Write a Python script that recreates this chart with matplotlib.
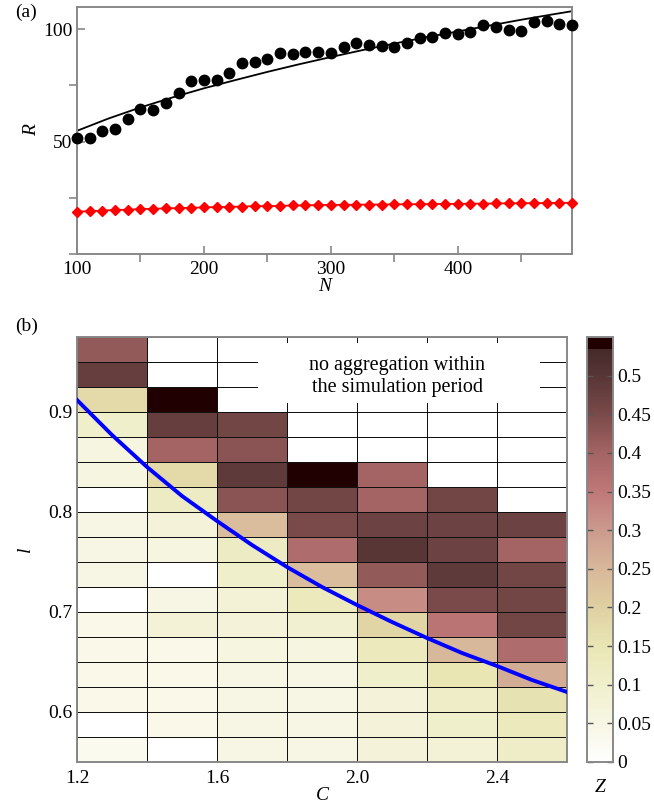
import numpy as np
import matplotlib
matplotlib.use("Agg")
import matplotlib.pyplot as plt
from matplotlib.colors import LinearSegmentedColormap
from matplotlib.patches import Rectangle
from matplotlib.ticker import MultipleLocator

plt.rcParams['font.family'] = ['Liberation Serif', 'DejaVu Serif']

# ---------------- panel (a) data ----------------
N = [100, 110, 120, 130, 140, 150, 160, 170, 180, 190,
     200, 210, 220, 230, 240, 250, 260, 270, 280, 290,
     300, 310, 320, 330, 340, 350, 360, 370, 380, 390,
     400, 410, 420, 430, 440, 450, 460, 470, 480, 490]
R_sim = [51.8, 51.7, 54.5, 55.7, 60.1, 64.5, 64.0, 67.0, 71.4, 76.8,
         77.6, 77.6, 80.6, 84.9, 85.4, 86.7, 89.3, 88.9, 90.0, 90.0,
         89.6, 92.2, 94.0, 93.0, 92.5, 92.1, 93.7, 96.1, 96.6, 98.1,
         97.8, 98.8, 101.8, 101.0, 99.6, 99.1, 103.2, 103.5, 102.2, 102.0]
R_red = [18.9, 19.0, 19.3, 19.6, 19.7, 20.0, 20.1, 20.3, 20.4, 20.6,
         20.7, 20.9, 21.0, 21.1, 21.3, 21.3, 21.4, 21.6, 21.6, 21.8,
         21.8, 21.9, 21.9, 22.0, 22.0, 22.1, 22.1, 22.2, 22.2, 22.3,
         22.3, 22.4, 22.4, 22.5, 22.5, 22.6, 22.6, 22.7, 22.7, 22.8]
N_fit = [100, 125, 150, 175, 200, 225, 250, 275, 300, 325, 350, 375,
         400, 425, 450, 475, 490]
R_fit = [54.8, 60.3, 65.2, 69.6, 73.7, 77.4, 81.0, 84.4, 87.6, 90.7,
         93.6, 96.4, 99.0, 101.6, 104.2, 106.6, 108.0]

# ---------------- panel (b) data ----------------
C_edges = [1.2, 1.4, 1.6, 1.8, 2.0, 2.2, 2.4, 2.6]
l_edges = [0.55, 0.575, 0.6, 0.625, 0.65, 0.675, 0.7, 0.725, 0.75, 0.775,
           0.8, 0.825, 0.85, 0.875, 0.9, 0.925, 0.95, 0.975]
nan = np.nan
# rows listed from top (l = 0.95-0.975) to bottom (l = 0.55-0.575)
Z_rows_top_down = [
    [0.42, nan, nan, nan, nan, nan, nan],
    [0.48, nan, nan, nan, nan, nan, nan],
    [0.18, 0.55, nan, nan, nan, nan, nan],
    [0.10, 0.48, 0.46, nan, nan, nan, nan],
    [0.06, 0.40, 0.43, nan, nan, nan, nan],
    [0.06, 0.18, 0.49, 0.55, 0.40, nan, nan],
    [0.00, 0.12, 0.43, 0.46, 0.40, 0.46, nan],
    [0.05, 0.07, 0.24, 0.45, 0.47, 0.47, 0.47],
    [0.05, 0.06, 0.12, 0.38, 0.50, 0.47, 0.40],
    [0.05, 0.00, 0.10, 0.24, 0.42, 0.49, 0.46],
    [0.00, 0.05, 0.08, 0.13, 0.32, 0.45, 0.46],
    [0.04, 0.08, 0.07, 0.09, 0.19, 0.36, 0.46],
    [0.04, 0.04, 0.06, 0.06, 0.13, 0.25, 0.38],
    [0.04, 0.04, 0.05, 0.05, 0.10, 0.15, 0.27],
    [0.04, 0.04, 0.05, 0.05, 0.07, 0.11, 0.16],
    [0.00, 0.04, 0.05, 0.05, 0.07, 0.10, 0.13],
    [0.03, 0.00, 0.05, 0.05, 0.07, 0.08, 0.11],
]
C_curve = [1.2, 1.3, 1.4, 1.5, 1.6, 1.7, 1.8, 1.9, 2.0, 2.1, 2.2, 2.3, 2.4, 2.5, 2.6]
l_curve = [0.912, 0.877, 0.845, 0.816, 0.791, 0.767, 0.745, 0.725, 0.707,
           0.690, 0.674, 0.659, 0.646, 0.632, 0.620]

cb_ticks = [0, 0.05, 0.1, 0.15, 0.2, 0.25, 0.3, 0.35, 0.4, 0.45, 0.5]
cb_ticklabels = ['0', '0.05', '0.1', '0.15', '0.2', '0.25', '0.3', '0.35', '0.4', '0.45', '0.5']

# colormap
vmax = 0.55
nodes = [(0.00, '#ffffff'), (0.05, '#f7f6e4'), (0.10, '#f0efcc'), (0.15, '#e9e6b4'),
         (0.20, '#dfd0a2'), (0.25, '#d8b89a'), (0.30, '#cb9a8e'), (0.35, '#c07878'),
         (0.40, '#a46464'), (0.45, '#7a4a4a'), (0.50, '#583636'), (0.534, '#452a2a'),
         (0.536, '#200000'), (0.55, '#200000')]
cmap = LinearSegmentedColormap.from_list('zc', [(v / vmax, c) for v, c in nodes], N=512)
cmap.set_bad('white')

W, H = 654, 807
fig = plt.figure(figsize=(W / 100, H / 100), dpi=100)
frame_col = '#888888'
fs = 14

def style_axes(ax):
    for s in ax.spines.values():
        s.set_color(frame_col)
        s.set_linewidth(1.4)
    ax.tick_params(direction='in', color=frame_col, width=1.2, labelsize=fs)
    ax.tick_params(which='major', length=6)
    ax.tick_params(which='minor', length=6, width=1.2, color=frame_col)

# ---------------- panel (a) ----------------
ax1 = fig.add_axes([77 / W, 1 - 254 / H, 495 / W, (254 - 6.7) / H])
ax1.plot(N_fit, R_fit, color='black', lw=1.3, zorder=2)
ax1.plot(N, R_sim, 'o', color='black', ms=7.5, zorder=3, clip_on=False)
ax1.plot(N, R_red, '-D', color='#ff0000', ms=5, lw=1.3, zorder=3, clip_on=False)
ax1.set_xlim(100, 490)
ax1.set_ylim(0, 110)
ax1.set_xticks([100, 200, 300, 400])
ax1.xaxis.set_minor_locator(MultipleLocator(50))
ax1.set_yticks([50, 100])
ax1.yaxis.set_minor_locator(MultipleLocator(25))
style_axes(ax1)
ax1.tick_params(axis='x', pad=5)
ax1.set_xlabel('N', fontsize=fs, style='italic', labelpad=0)
ax1.set_ylabel('R', fontsize=fs, style='italic', labelpad=2)

# ---------------- panel (b) ----------------
ax2 = fig.add_axes([77 / W, 1 - 762 / H, 490 / W, (762 - 337) / H])
Z = np.flipud(np.array(Z_rows_top_down, dtype=float))
Zm = np.ma.masked_invalid(Z)
mesh = ax2.pcolormesh(C_edges, l_edges, Zm, cmap=cmap, vmin=0, vmax=vmax,
                      edgecolors='#111111', linewidth=0.7)
ax2.add_patch(Rectangle((1.717, 0.9087), 2.523 - 1.717, 0.9687 - 0.9087,
                        facecolor='white', edgecolor='none', zorder=3))
ax2.text(2.115, 0.9355, 'no aggregation within\nthe simulation period',
         ha='center', va='center', fontsize=14.5, linespacing=1.25, zorder=4)
ax2.plot(C_curve, l_curve, color='#0000ff', lw=2.8, zorder=5)
ax2.set_xlim(1.2, 2.6)
ax2.set_ylim(0.55, 0.975)
ax2.set_xticks([1.2, 1.6, 2.0, 2.4])
ax2.set_xticklabels(['1.2', '1.6', '2.0', '2.4'])
ax2.set_yticks([0.6, 0.7, 0.8, 0.9])
ax2.set_yticklabels(['0.6', '0.7', '0.8', '0.9'])
style_axes(ax2)
ax2.tick_params(length=0)
ax2.tick_params(axis='x', pad=6)
ax2.set_xlabel('C', fontsize=fs, style='italic', labelpad=0)
ax2.set_ylabel('l', fontsize=fs, style='italic', labelpad=10)

# colorbar
cax = fig.add_axes([587 / W, 1 - 762 / H, 26 / W, (762 - 337) / H])
cb = fig.colorbar(mesh, cax=cax)
cb.set_ticks(cb_ticks)
cb.set_ticklabels(cb_ticklabels)
cb.outline.set_edgecolor(frame_col)
cb.outline.set_linewidth(1.4)
cax.tick_params(direction='in', length=4, width=1.0, color='#555555', labelsize=fs,
                left=True, right=True, pad=3)
cax.set_xlabel('Z', fontsize=fs, style='italic', labelpad=12)

fig.text(15 / W, 1 - 12 / H, '(a)', fontsize=fs, ha='left', va='center')
fig.text(15 / W, 1 - 326 / H, '(b)', fontsize=fs, ha='left', va='center')

fig.savefig('out.png', dpi=100)
